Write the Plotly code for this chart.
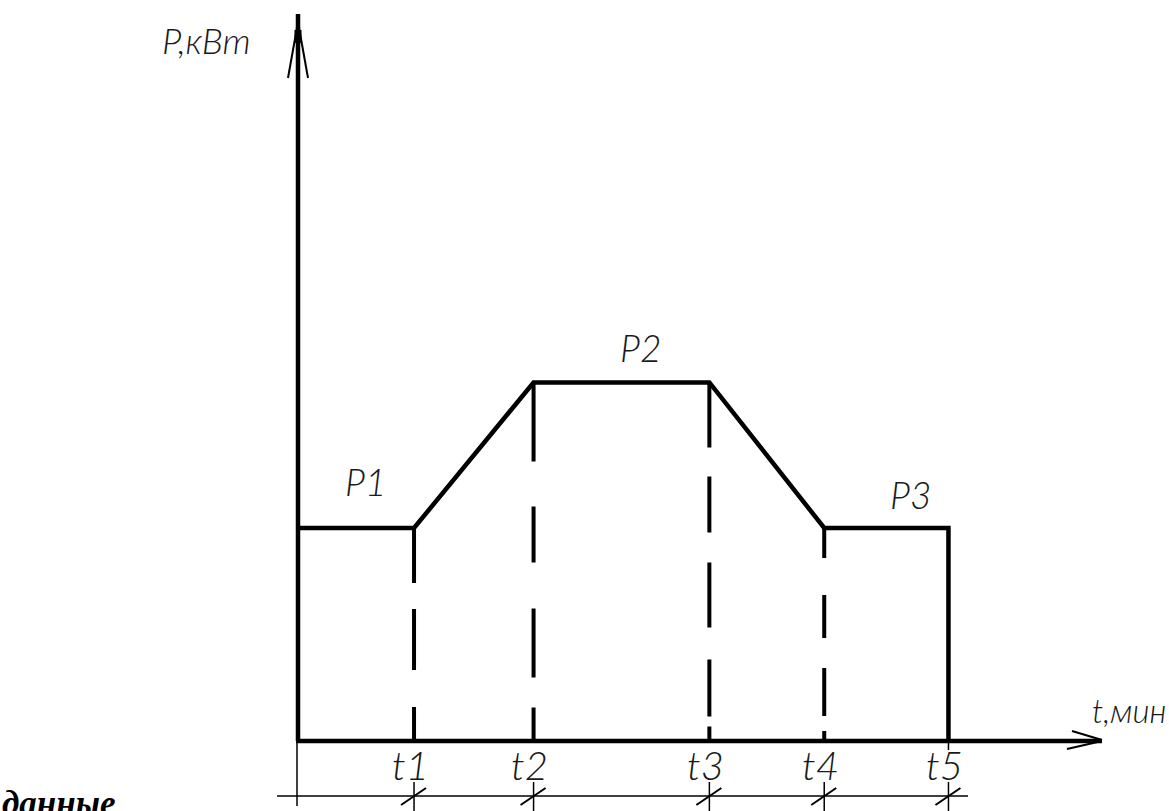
import plotly.graph_objects as go

# ---- data (time in arbitrary units, power in arbitrary units) ----
t_labels = ["t1", "t2", "t3", "t4", "t5"]
t_values = [1.98, 4.02, 7.02, 8.98, 11.1]
P_labels = ["P1", "P2", "P3"]
P_values = [3.0, 5.05, 3.0]
x_title = "t,мин"
y_title = "P,кВт"
side_text = "данные"

# dash patterns of the vertical guide lines at t1..t4 (drawn top -> bottom)
guide_dashes = [
    "55px,26px,61px,37px,80px",
    "79px,45px,56px,46px,69px,30px,60px",
    "65px,29px,56px,30px,65px,32px,57px,10px,40px",
    "30px,37px,43px,30px,48px,15px,30px",
]

# ---- pixel <-> data mapping (figure is 1169 x 811, no margins) ----
W, H = 1169, 811
X0, SX = 298.0, 58.6   # pixel of t=0, px per unit
Y0, SY = 741.0, 71.0   # pixel of P=0, px per unit


def X(px):
    return (px - X0) / SX


def Y(py):
    return (Y0 - py) / SY


def PX(x):
    return X0 + x * SX


def PY(y):
    return Y0 - y * SY


t1, t2, t3, t4, t5 = t_values
P1, P2, P3 = P_values

fig = go.Figure()

# main load profile
prof_x = [0, t1, t2, t3, t4, t5, t5]
prof_y = [P1, P1, P2, P2, P3, P3, 0]
fig.add_trace(go.Scatter(x=prof_x, y=prof_y, mode="lines",
                         line=dict(color="black", width=4.5),
                         hoverinfo="skip", showlegend=False))

# dashed guide lines at t1..t4
tops = [P1, P2, P2, P3]
for tv, top, dsh in zip(t_values[:4], tops, guide_dashes):
    fig.add_trace(go.Scatter(x=[tv, tv], y=[top, 0], mode="lines",
                             line=dict(color="black", width=4, dash=dsh),
                             hoverinfo="skip", showlegend=False))

shapes = []


def seg(x0, y0, x1, y1, w):
    shapes.append(dict(type="line", xref="x", yref="y", x0=x0, y0=y0,
                       x1=x1, y1=y1, line=dict(color="black", width=w),
                       layer="above"))


# axes
seg(0, 0, 0, Y(14), 4.5)
seg(X(296), 0, X(1102), 0, 4.5)
# y arrow head
seg(0, Y(22), X(288), Y(78), 2)
seg(0, Y(22), X(308), Y(78), 2)
seg(0, Y(30), 0, Y(43), 7)
# x arrow head
seg(X(1102), Y(740), X(1072), Y(731), 2)
seg(X(1102), Y(741), X(1067), Y(749), 2)

# dimension line and ticks
dim_y = Y(796)
seg(X(277), dim_y, X(968), dim_y, 1.5)
seg(X(297), 0, X(297), Y(806), 1.5)
seg(t5, 0, t5, Y(750), 1.5)
for tv in t_values:
    seg(tv, Y(782), tv, Y(815), 1.5)
    px = PX(tv)
    seg(X(px - 13), Y(805), X(px + 12), Y(788), 2)

annotations = []


def lfont(size):
    return dict(family="Lato, Liberation Sans, sans-serif", weight=300,
                size=size, color="#1a1a1a", style="italic")


def label(text, px, py, size=36, xanchor="center"):
    annotations.append(dict(text=text, x=px / W, y=1 - py / H,
                            xref="paper", yref="paper",
                            showarrow=False, xanchor=xanchor, yanchor="middle",
                            font=lfont(size)))


label(y_title, 206, 40)
label(x_title, 1129, 710, size=33)
label(P_labels[0], PX((0 + t1) / 2) + 9, PY(P1) - 46, size=37)
label(P_labels[1], PX((t2 + t3) / 2) + 19, PY(P2) - 35, size=37)
label(P_labels[2], PX((t4 + t5) / 2) + 24, PY(P3) - 34, size=37)
for lab, tv in zip(t_labels, t_values):
    label(lab, PX(tv) - 4, 765, size=40)

annotations.append(dict(text="<b><i>" + side_text + "</i></b>",
                        x=0 / W, y=1 - 825 / H,
                        xref="paper", yref="paper", showarrow=False,
                        xanchor="left", yanchor="bottom",
                        font=dict(family="Liberation Serif, Times New Roman, serif",
                                  size=35, color="black")))

fig.update_layout(
    width=W, height=H,
    margin=dict(l=0, r=0, t=0, b=0),
    paper_bgcolor="white", plot_bgcolor="white",
    xaxis=dict(range=[X(0), X(W)], visible=False, fixedrange=True),
    yaxis=dict(range=[Y(H), Y(0)], visible=False, fixedrange=True),
    shapes=shapes, annotations=annotations,
    showlegend=False,
)

fig.write_html("out.html", config={"displayModeBar": False},
               post_script="document.body.style.margin='0';document.body.style.overflow='hidden';")
